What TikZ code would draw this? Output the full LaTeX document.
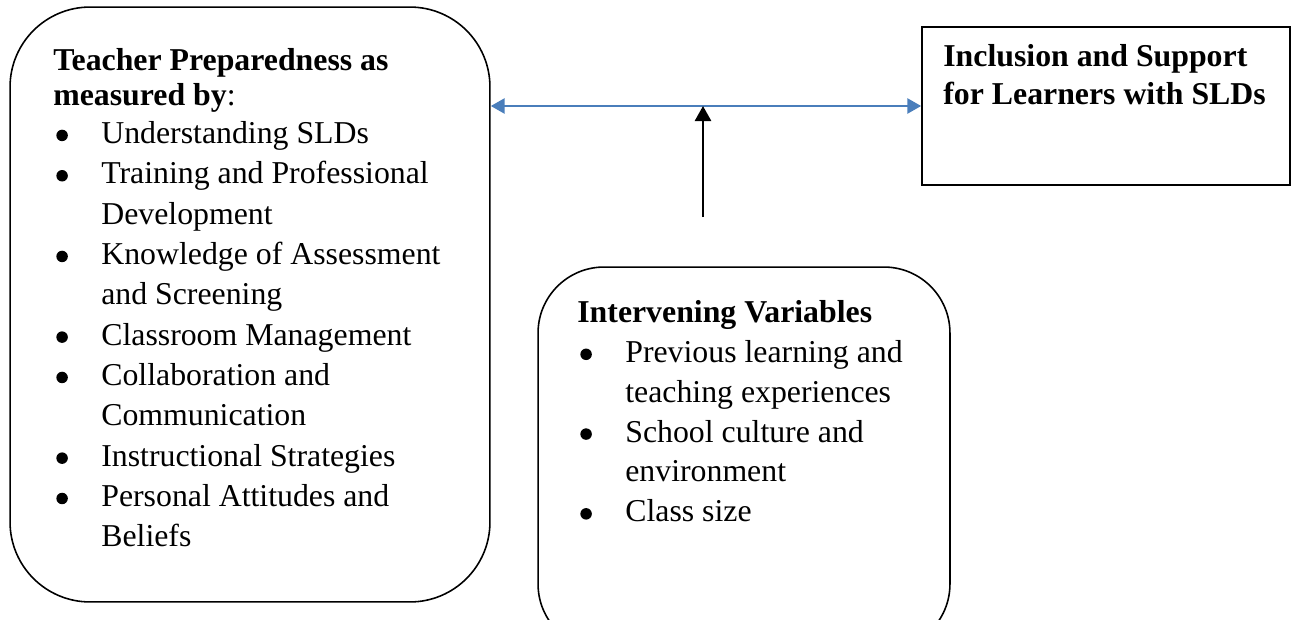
\documentclass[tikz,border=0pt]{standalone}
\usepackage{fontspec}
\setmainfont{Liberation Serif}
\usetikzlibrary{arrows.meta}

\definecolor{linkblue}{RGB}{74,126,187}
\newcommand{\bul}{\hspace*{0.06cm}\makebox[0.9cm][l]{\tikz[baseline=0pt]\fill (0,0.16cm) circle (0.115cm);}}
\newcommand{\ind}{\hspace*{0.96cm}}

\tikzset{
	box/.style={draw, line width=0.9pt},
	txt/.style={anchor=north west, inner sep=0pt, align=left, font=\fontsize{18.1}{#1}\selectfont},
	link/.style={linkblue, line width=1.6pt, {Triangle[length=0.28cm,width=0.3cm]}-{Triangle[length=0.28cm,width=0.3cm]}},
	pointer/.style={black, line width=1.5pt, -{Triangle[length=0.3cm,width=0.32cm]}},
}

\begin{document}
\begin{tikzpicture}[x=0.02cm, y=-0.02cm]

	\useasboundingbox (0,0) rectangle (1291,619);

	\node[box, rounded corners=1.6cm, minimum width=9.6cm, minimum height=11.9cm] (prep) at (250,304.5) {};
	\node[box, minimum width=7.36cm, minimum height=3.16cm] (incl) at (1106,106) {};
	\node[box, rounded corners=1.32cm, minimum width=8.24cm, minimum height=7.66cm] (interv) at (744,458.5) {};

	\node[txt=19.8pt] (preptitle) at (53,48) {\textbf{Teacher Preparedness as}\\
		\textbf{measured by}:};
	\node[txt=22.96pt] (preplist) at (53,121) {\bul Understanding SLDs\\
		\bul Training and Professional\\
		\ind Development\\
		\bul Knowledge of Assessment\\
		\ind and Screening\\
		\bul Classroom Management\\
		\bul Collaboration and\\
		\ind Communication\\
		\bul Instructional Strategies\\
		\bul Personal Attitudes and\\
		\ind Beliefs};

	\node[txt=21.5pt] (incltxt) at (943,44) {\textbf{Inclusion and Support}\\
		\textbf{for Learners with SLDs}};

	\node[txt=22.7pt] (intervtxt) at (577,300) {\textbf{Intervening Variables}\\
		\bul Previous learning and\\
		\ind teaching experiences\\
		\bul School culture and\\
		\ind environment\\
		\bul Class size};

	\coordinate (tail) at (703,217);
	\draw[link] (prep.east |- incl.west) -- (incl.west);
	\draw[pointer] (tail) -- (tail |- incl.west);

\end{tikzpicture}
\end{document}
